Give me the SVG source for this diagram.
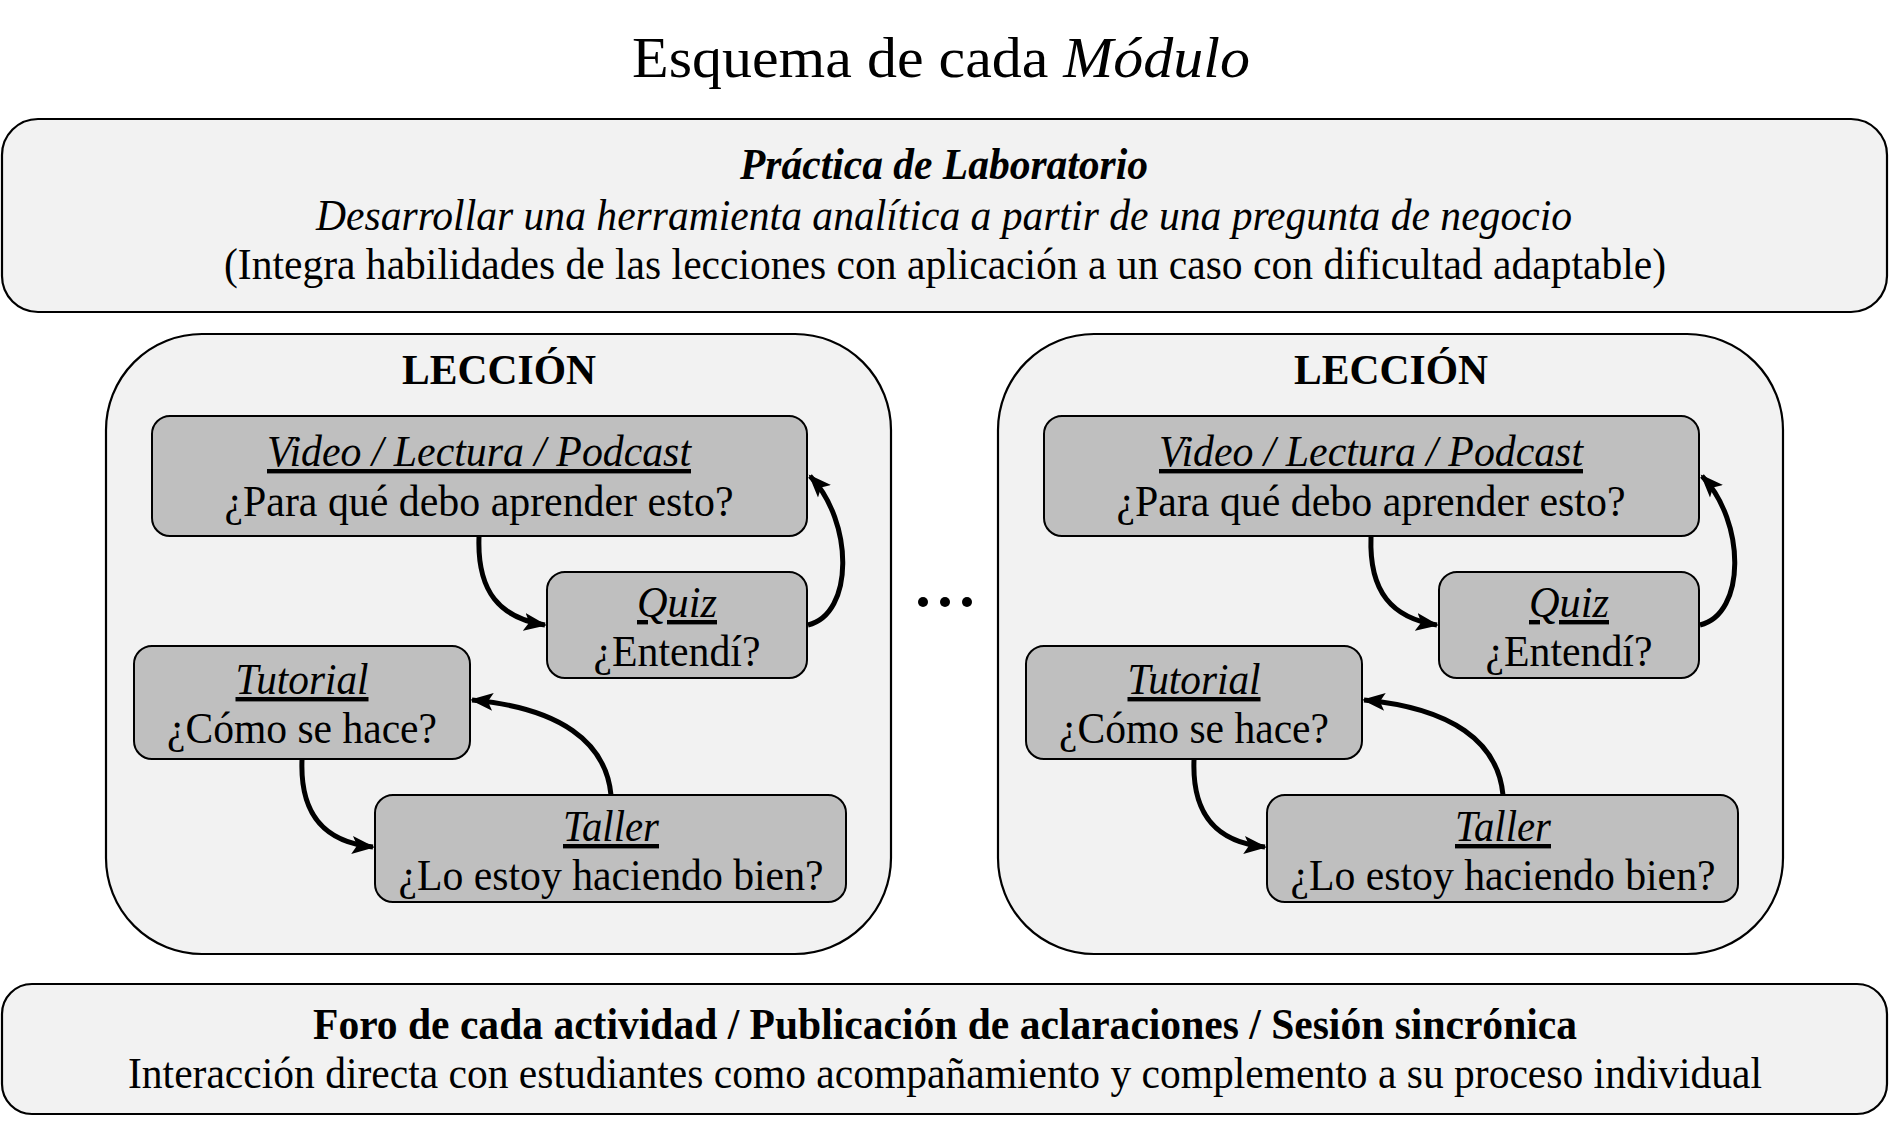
<svg xmlns="http://www.w3.org/2000/svg" width="1889" height="1125" viewBox="0 0 1889 1125">
<style>
.outer{fill:#f2f2f2;stroke:#000;stroke-width:2.2}
.inner{fill:#bfbfbf;stroke:#000;stroke-width:2}
text{font-family:"Liberation Serif","Times New Roman",serif;fill:#000;text-anchor:middle}
.t{font-size:44px}
.it{font-style:italic}
.b{font-weight:bold}
.u{text-decoration:underline}
.conn{fill:none;stroke:#000;stroke-width:5}
</style>
<defs>
<marker id="ah" markerUnits="userSpaceOnUse" markerWidth="26" markerHeight="22" refX="21" refY="11" orient="auto">
<path d="M0,2 L23,11 L0,20 L5,11 Z" fill="#000"/>
</marker>
<g id="lesson">
<rect class="outer" x="106" y="334" width="785" height="620" rx="96"/>
<text class="b" x="499" y="384" font-size="42" textLength="194" lengthAdjust="spacingAndGlyphs">LECCIÓN</text>
<rect class="inner" x="152" y="416" width="655" height="120" rx="18"/>
<text class="t it u" x="479" y="466" textLength="424" lengthAdjust="spacingAndGlyphs">Video / Lectura / Podcast</text>
<text class="t" x="479" y="516" textLength="509" lengthAdjust="spacingAndGlyphs">¿Para qué debo aprender esto?</text>
<rect class="inner" x="547" y="572" width="260" height="106" rx="18"/>
<text class="t it u" x="677" y="617" textLength="80" lengthAdjust="spacingAndGlyphs">Quiz</text>
<text class="t" x="677" y="666" textLength="167" lengthAdjust="spacingAndGlyphs">¿Entendí?</text>
<rect class="inner" x="134" y="646" width="336" height="113" rx="18"/>
<text class="t it u" x="302" y="694" textLength="133" lengthAdjust="spacingAndGlyphs">Tutorial</text>
<text class="t" x="302" y="743" textLength="270" lengthAdjust="spacingAndGlyphs">¿Cómo se hace?</text>
<rect class="inner" x="375" y="795" width="471" height="107" rx="18"/>
<text class="t it u" x="611" y="841" textLength="96" lengthAdjust="spacingAndGlyphs">Taller</text>
<text class="t" x="611" y="890" textLength="425" lengthAdjust="spacingAndGlyphs">¿Lo estoy haciendo bien?</text>
</g>
<g id="lessonArrows">
<path class="conn" d="M479,537 C477,592 500,618 545,625" marker-end="url(#ah)"/>
<path class="conn" d="M808,625 C854,614 854,522 810,476" marker-end="url(#ah)"/>
<path class="conn" d="M611,795 C606,742 560,708 472,700" marker-end="url(#ah)"/>
<path class="conn" d="M302,760 C300,812 322,842 373,847" marker-end="url(#ah)"/>
</g>
</defs>

<text x="941" y="77" font-size="58" textLength="618" lengthAdjust="spacingAndGlyphs">Esquema de cada <tspan font-style="italic">Módulo</tspan></text>

<g id="practica">
<rect class="outer" x="2" y="119" width="1885" height="193" rx="36"/>
<text class="t b it" x="944" y="179" textLength="408" lengthAdjust="spacingAndGlyphs">Práctica de Laboratorio</text>
<text class="t it" x="944" y="230" textLength="1256" lengthAdjust="spacingAndGlyphs">Desarrollar una herramienta analítica a partir de una pregunta de negocio</text>
<text class="t" x="945" y="279" textLength="1442" lengthAdjust="spacingAndGlyphs">(Integra habilidades de las lecciones con aplicación a un caso con dificultad adaptable)</text>
</g>

<g id="leccion1">
<use href="#lesson"/>
</g>
<g id="leccion2" transform="translate(892,0)">
<use href="#lesson"/>
</g>

<g id="connectors">
<use href="#lessonArrows"/>
<use href="#lessonArrows" transform="translate(892,0)"/>
</g>

<g id="dots">
<circle cx="923" cy="602" r="5"/>
<circle cx="945" cy="602" r="5"/>
<circle cx="967" cy="602" r="5"/>
</g>

<g id="foro">
<rect class="outer" x="2" y="984" width="1885" height="130" rx="30"/>
<text class="t b" x="945" y="1039" textLength="1264" lengthAdjust="spacingAndGlyphs">Foro de cada actividad / Publicación de aclaraciones / Sesión sincrónica</text>
<text class="t" x="945" y="1088" textLength="1634" lengthAdjust="spacingAndGlyphs">Interacción directa con estudiantes como acompañamiento y complemento a su proceso individual</text>
</g>
</svg>
